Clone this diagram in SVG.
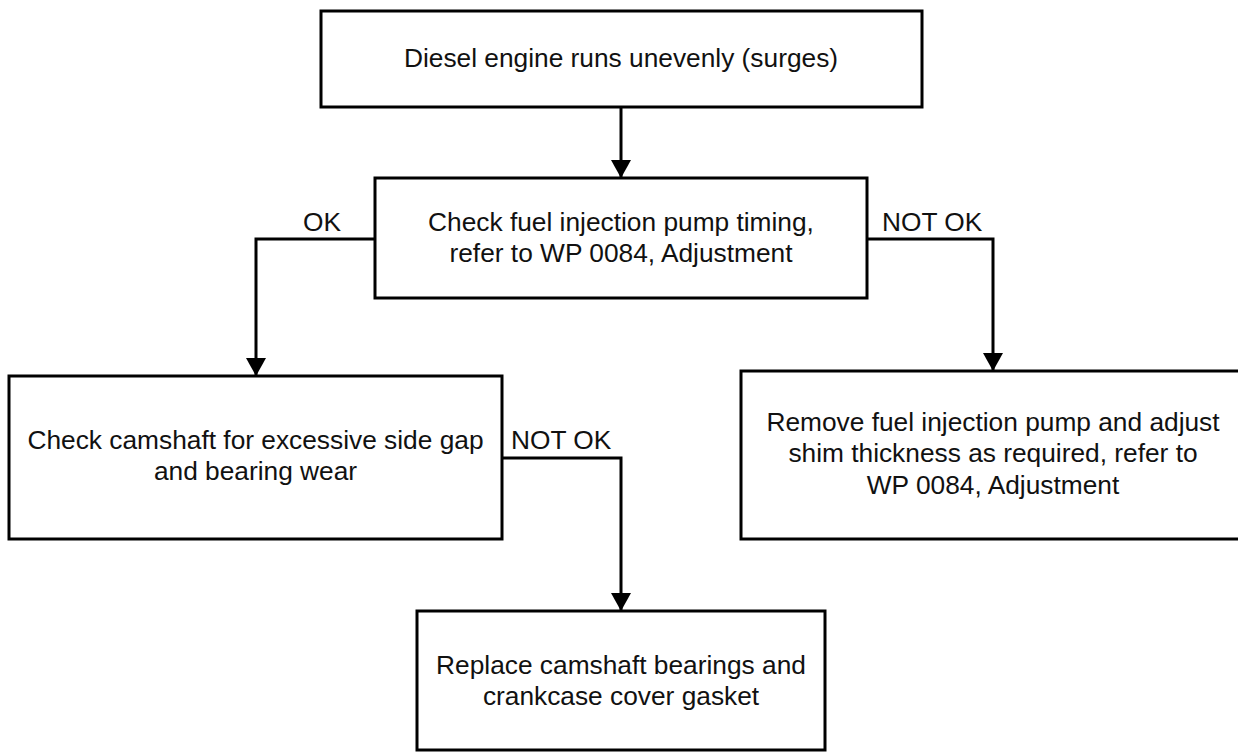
<svg xmlns="http://www.w3.org/2000/svg" width="1238" height="753" viewBox="0 0 1238 753">
<style>
.box{fill:#fff;stroke:#000;stroke-width:3}
.t{font-family:"Liberation Sans",Arial,sans-serif;font-size:26.3px;fill:#111;text-anchor:middle}
.lbl{font-family:"Liberation Sans",Arial,sans-serif;font-size:26.3px;fill:#111}
.c{fill:none;stroke:#000;stroke-width:3;marker-end:url(#ah)}
</style>
<defs>
<marker id="ah" markerUnits="userSpaceOnUse" markerWidth="18" markerHeight="20" viewBox="0 0 18 20" refX="18" refY="10" orient="auto">
<path d="M0,0 L18,10 L0,20 z" fill="#000"/>
</marker>
</defs>
<rect width="1238" height="753" fill="#fff"/>
<g id="connectors">
<path class="c" d="M621,107 L621,178"/>
<path class="c" d="M375,239 L256,239 L256,376"/>
<path class="c" d="M867,239 L993,239 L993,371"/>
<path class="c" d="M502,458 L621,458 L621,611"/>
<text class="lbl" x="303" y="231">OK</text>
<text class="lbl" x="882" y="231">NOT OK</text>
<text class="lbl" x="511" y="449">NOT OK</text>
</g>
<g id="n1">
<rect class="box" x="321" y="11" width="601" height="96"/>
<text class="t" x="621" y="67">Diesel engine runs unevenly (surges)</text>
</g>
<g id="n2">
<rect class="box" x="375" y="178" width="492" height="120"/>
<text class="t" x="621" y="231">Check fuel injection pump timing,</text>
<text class="t" x="621" y="262">refer to WP 0084, Adjustment</text>
</g>
<g id="n3">
<rect class="box" x="9" y="376" width="493" height="163"/>
<text class="t" x="255.5" y="449">Check camshaft for excessive side gap</text>
<text class="t" x="255.5" y="480">and bearing wear</text>
</g>
<g id="n4">
<rect class="box" x="741" y="371" width="504" height="168"/>
<text class="t" x="993" y="431">Remove fuel injection pump and adjust</text>
<text class="t" x="993" y="462">shim thickness as required, refer to</text>
<text class="t" x="993" y="494">WP 0084, Adjustment</text>
</g>
<g id="n5">
<rect class="box" x="417" y="611" width="408" height="139"/>
<text class="t" x="621" y="674">Replace camshaft bearings and</text>
<text class="t" x="621" y="705">crankcase cover gasket</text>
</g>
</svg>
